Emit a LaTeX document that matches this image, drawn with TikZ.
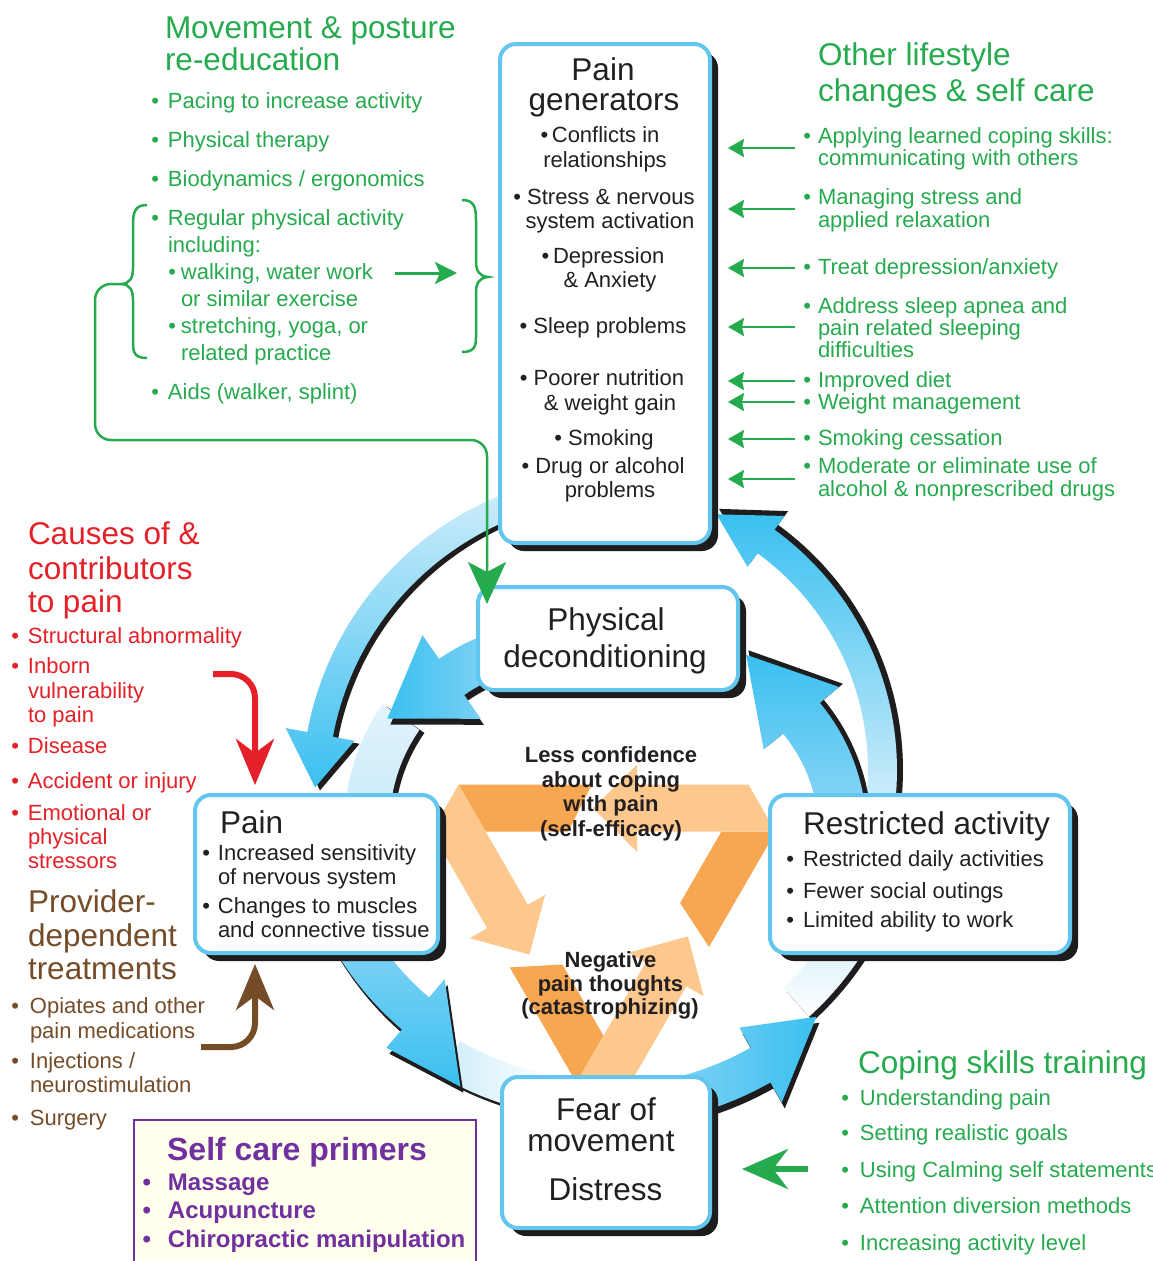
\documentclass[tikz,border=0pt]{standalone}
\usepackage{fontspec}
\setmainfont{Liberation Sans}
\usetikzlibrary{arrows.meta,shadows,calc}
\definecolor{gcolor}{RGB}{38,170,78}
\definecolor{rcolor}{RGB}{228,32,40}
\definecolor{bcolor}{RGB}{117,76,40}
\definecolor{pcolor}{RGB}{112,48,160}
\definecolor{kcolor}{RGB}{35,31,32}
\definecolor{bord}{RGB}{98,198,238}
\definecolor{bsat}{RGB}{58,192,240}
\definecolor{bmid}{RGB}{135,212,245}
\definecolor{bpale}{RGB}{205,236,250}
\definecolor{odark}{RGB}{247,166,82}
\definecolor{olight}{RGB}{252,200,142}
\definecolor{shad}{RGB}{30,28,28}
\definecolor{pfill}{RGB}{255,255,236}
\newcommand\bl[1]{\llap{•\hspace{#1}}}
\newcommand\BAgeom[9]{\def\Acx{#1}\def\Acy{#2}\def\Ara{#3}\def\Arb{#4}\def\Aas{#5}\def\Aab{#6}\def\Aat{#7}\def\Ae{#8}\def\Art{#9}}
\newcommand\BApath{plot[domain=\Aas:\Aab,samples=40] ({\Acx+\Arb*cos(\x)},{\Acy+\Arb*sin(\x)}) -- ({\Acx+(\Arb+\Ae)*cos(\Aab)},{\Acy+(\Arb+\Ae)*sin(\Aab)}) -- ({\Acx+\Art*cos(\Aat)},{\Acy+\Art*sin(\Aat)}) -- ({\Acx+(\Ara-\Ae)*cos(\Aab)},{\Acy+(\Ara-\Ae)*sin(\Aab)}) -- plot[domain=\Aab:\Aas,samples=40] ({\Acx+\Ara*cos(\x)},{\Acy+\Ara*sin(\x)}) -- cycle}
\newcommand\FAgeom[6]{\def\Fcx{#1}\def\Fcy{#2}\def\Fra{#3}\def\Frb{#4}\def\Fas{#5}\def\Fae{#6}}
\newcommand\FApath{plot[domain=\Fas:\Fae,samples=30] ({\Fcx+\Frb*cos(\x)},{\Fcy+\Frb*sin(\x)}) -- plot[domain=\Fae:\Fas,samples=30] ({\Fcx+\Fra*cos(\x)},{\Fcy+\Fra*sin(\x)}) -- cycle}
\begin{document}
\begin{tikzpicture}[x=1pt,y=-1pt,
  T/.style={anchor=base west,inner sep=0pt,outer sep=0pt},
  C/.style={anchor=base,inner sep=0pt,outer sep=0pt},
  H/.style={font=\fontsize{31.5}{33}\selectfont},
  S/.style={font=\fontsize{22}{24}\selectfont},
  SB/.style={font=\fontsize{22}{24}\selectfont\bfseries},
  gtx/.style={text=gcolor}, rtx/.style={text=rcolor}, btx/.style={text=bcolor},
  ptx/.style={text=pcolor}, ktx/.style={text=kcolor},
  box/.style={draw=bord,line width=4pt,fill=white,rounded corners=16pt,inner sep=0pt,
    drop shadow={shadow xshift=8pt,shadow yshift=-8pt,opacity=1,fill=shad}},
  gar/.style={draw=gcolor,line width=2.5pt,-{Stealth[length=16pt,width=18pt,inset=2pt]}},
]
\useasboundingbox (0,0) rectangle (1153,1261);
\fill[white] (0,0) rectangle (1153,1261);

% ---------- faded ring parts ----------
\FAgeom{554.6}{824.6}{165}{210}{186}{215}
\fill[shad,shift={(5,3)}] \FApath;
\shade[top color=bpale!60!white,bottom color=bpale] \FApath;
\FAgeom{605}{790}{290}{330}{100}{120}
\fill[shad,shift={(1,3)}] \FApath;
\shade[left color=bpale,right color=white] \FApath;
\FAgeom{605}{790}{272}{311}{28}{48}
\fill[shad] \FApath;
\FAgeom{605}{790}{266}{305}{28}{48}
\shade[top color=bpale,bottom color=white] \FApath;

% ---------- blue arrows ----------
% A1 pain generators -> pain
\BAgeom{620}{790}{292}{318}{250}{190.5}{180.5}{22}{305}
\fill[shad,shift={(5,3)}] \BApath;
\shade[top color=bpale,bottom color=bsat] \BApath;
% A2 restricted -> pain generators
\BAgeom{600}{770}{274}{303}{366}{306}{294.5}{17}{287}
\fill[shad] \BApath;
\BAgeom{600}{770}{268}{297}{366}{306}{294.5}{17}{281}
\shade[bottom color=bpale,top color=bsat] \BApath;
% A3 deconditioning -> pain
\BAgeom{554.6}{824.6}{158}{202}{250}{235.1}{212.4}{29}{198}
\fill[shad,shift={(3,6)}] \BApath;
\shade[left color=bsat,right color=bmid] \BApath;
% A4 restricted -> deconditioning
\BAgeom{663.7}{832.6}{160}{208}{350}{320.3}{294.9}{25}{201}
\fill[shad] \BApath;
\BAgeom{663.7}{832.6}{155}{203}{350}{320.3}{294.9}{25}{196}
\shade[bottom color=bmid,top color=bsat] \BApath;
% A5 pain -> fear
\BAgeom{605}{790}{272}{314}{150}{130.3}{116}{24}{330}
\fill[shad,shift={(3,6)}] \BApath;
\shade[top color=bmid,bottom color=bsat] \BApath;
% A6 fear -> restricted
\BAgeom{605}{790}{296}{336}{80}{60.5}{47}{23}{310}
\fill[shad,shift={(3,6)}] \BApath;
\shade[left color=bmid,right color=bsat] \BApath;

% ---------- orange triangle ----------
\begin{scope}[shift={(603.5,899.7)}]
\foreach \a in {0,120,240}{
  \fill[odark,rotate=\a] (117.8,-68) -- (172.1,-68) -- (105.5,47.3) -- (76.65,3.27) -- cycle;}
\foreach \a in {0,120,240}{
  \fill[olight,rotate=\a] (145,-115) -- (172.1,-68) -- (33.5,-68) -- (33.5,-48) -- (-10.5,-91.5) -- (33.5,-135) -- (33.5,-115) -- cycle;}
\end{scope}
\node[C,SB,ktx] (lc1) at (611,762) {Less confidence};
\node[C,SB,ktx] (lc2) at (611,787) {about coping};
\node[C,SB,ktx] (lc3) at (611,811) {with pain};
\node[C,SB,ktx] (lc4) at (611,836) {(self-efficacy)};
\node[C,SB,ktx] (nt1) at (610.5,967) {Negative};
\node[C,SB,ktx] (nt2) at (610.5,991) {pain thoughts};
\node[C,SB,ktx] (nt3) at (610,1014) {(catastrophizing)};

% ---------- boxes ----------
\node[box,minimum width=210pt,minimum height=499pt] (pg) at (605,293.5) {};
\node[box,minimum width=260pt,minimum height=103pt] (pd) at (608,638.5) {};
\node[box,minimum width=243pt,minimum height=158pt] (pain) at (316.5,874) {};
\node[box,minimum width=300pt,minimum height=158pt] (ra) at (920,874) {};
\node[box,minimum width=208pt,minimum height=151pt] (fear) at (606,1152.5) {};

\node[C,H,ktx] (pgA) at (603,80) {Pain};
\node[C,H,ktx] (pgB) at (604,110) {generators};
\node[C,S,ktx] (pg1) at (600,142) {•\,Conflicts in};
\node[C,S,ktx] (pg1b) at (605,167) {relationships};
\node[C,S,ktx] (pg2) at (604,204) {• Stress \& nervous};
\node[C,S,ktx] (pg2b) at (610,228) {system activation};
\node[C,S,ktx] (pg3) at (603,263) {•\,Depression};
\node[C,S,ktx] (pg3b) at (610,287) {\& Anxiety};
\node[C,S,ktx] (pg4) at (603,333) {• Sleep problems};
\node[C,S,ktx] (pg5) at (602,385) {• Poorer nutrition};
\node[C,S,ktx] (pg5b) at (610,410) {\& weight gain};
\node[C,S,ktx] (pg6) at (604,445) {• Smoking};
\node[C,S,ktx] (pg7) at (603,473) {• Drug or alcohol};
\node[C,S,ktx] (pg7b) at (610,497) {problems};

\node[C,H,ktx] (pdA) at (606,630) {Physical};
\node[C,H,ktx] (pdB) at (605,667) {deconditioning};

\node[T,H,ktx] (paA) at (220,833) {Pain};
\node[T,S,ktx] (pa1) at (218,860) {\bl{8pt}Increased sensitivity};
\node[T,S,ktx] (pa1b) at (218,884) {of nervous system};
\node[T,S,ktx] (pa2) at (218,913) {\bl{8pt}Changes to muscles};
\node[T,S,ktx] (pa2b) at (218,937) {and connective tissue};

\node[T,H,ktx] (raA) at (803,834) {Restricted activity};
\node[T,S,ktx] (ra1) at (803,866) {\bl{9pt}Restricted daily activities};
\node[T,S,ktx] (ra2) at (803,898) {\bl{9pt}Fewer social outings};
\node[T,S,ktx] (ra3) at (803,927) {\bl{9pt}Limited ability to work};

\node[C,H,ktx] (fA) at (606,1120) {Fear of};
\node[C,H,ktx] (fB) at (601,1151) {movement};
\node[C,H,ktx] (fC) at (605.5,1200) {Distress};

% ---------- movement & posture ----------
\node[T,H,gtx] (mvA) at (165,38) {Movement \& posture};
\node[T,H,gtx] (mvB) at (165,70) {re-education};
\node[T,S,gtx] (mv1) at (168,108) {\bl{9pt}Pacing to increase activity};
\node[T,S,gtx] (mv2) at (168,147) {\bl{9pt}Physical therapy};
\node[T,S,gtx] (mv3) at (168,186) {\bl{9pt}Biodynamics / ergonomics};
\node[T,S,gtx] (mv4) at (168,225) {\bl{9pt}Regular physical activity};
\node[T,S,gtx] (mv4b) at (168,252) {including:};
\node[T,S,gtx] (mv5) at (181,279) {\bl{5pt}walking, water work};
\node[T,S,gtx] (mv5b) at (181,306) {or similar exercise};
\node[T,S,gtx] (mv6) at (181,333) {\bl{5pt}stretching, yoga, or};
\node[T,S,gtx] (mv6b) at (181,360) {related practice};
\node[T,S,gtx] (mv7) at (168,399) {\bl{9pt}Aids (walker, splint)};
\draw[gcolor,line width=2.5pt] (147,205) .. controls (135,205) and (133,212) .. (133,225) -- (133,268) .. controls (133,278) and (130,283) .. (122,284) .. controls (130,285) and (133,290) .. (133,300) -- (133,343) .. controls (133,353) and (135,358) .. (147,358);
\draw[gcolor,line width=2.5pt] (462,200) .. controls (474,200) and (476,207) .. (476,220) -- (476,261) .. controls (476,271) and (479,276) .. (488,277) .. controls (479,278) and (476,283) .. (476,293) -- (476,337) .. controls (476,347) and (474,352) .. (462,352);
\coordinate (lbt) at (122,284);
\coordinate (rbl) at (457,273);
\draw[gcolor,line width=3pt,-{Stealth[length=22pt,width=22pt,inset=5pt]}] ([xshift=22pt]mv5.east |- rbl) -- (rbl);
\coordinate (pdin) at (487,604);
\draw[gcolor,line width=2.5pt,rounded corners=16pt,-{Stealth[length=42pt,width=38pt,inset=10pt]}] (lbt) -- (95,284) -- (95,440) -- (487,440) -- (pdin);

% ---------- other lifestyle ----------
\node[T,H,gtx] (olA) at (818,65) {Other lifestyle};
\node[T,H,gtx] (olB) at (818,101) {changes \& self care};
\node[T,S,gtx] (ol1) at (818,143) {\bl{7pt}Applying learned coping skills:};
\node[T,S,gtx] (ol1b) at (818,165) {communicating with others};
\node[T,S,gtx] (ol2) at (818,204) {\bl{7pt}Managing stress and};
\node[T,S,gtx] (ol2b) at (818,227) {applied relaxation};
\node[T,S,gtx] (ol3) at (818,274) {\bl{7pt}Treat depression/anxiety};
\node[T,S,gtx] (ol4) at (818,313) {\bl{7pt}Address sleep apnea and};
\node[T,S,gtx] (ol4b) at (818,335) {pain related sleeping};
\node[T,S,gtx] (ol4c) at (818,357) {difficulties};
\node[T,S,gtx] (ol5) at (818,387) {\bl{7pt}Improved diet};
\node[T,S,gtx] (ol6) at (818,409) {\bl{7pt}Weight management};
\node[T,S,gtx] (ol7) at (818,445) {\bl{7pt}Smoking cessation};
\node[T,S,gtx] (ol8) at (818,473) {\bl{7pt}Moderate or eliminate use of};
\node[T,S,gtx] (ol8b) at (818,496) {alcohol \& nonprescribed drugs};
\foreach \n/\yy in {1/148,2/209,3/268,4/327,5/381,6/402,7/439,8/479}{
  \coordinate (gt\n) at (728,\yy);
  \draw[gar] ([xshift=-23pt]ol\n.west |- gt\n) -- (gt\n);}

% ---------- causes ----------
\node[T,H,rtx] (cA) at (28,544) {Causes of \&};
\node[T,H,rtx] (cB) at (28,579) {contributors};
\node[T,H,rtx] (cC) at (28,612) {to pain};
\node[T,S,rtx] (c1) at (28,643) {\bl{9pt}Structural abnormality};
\node[T,S,rtx] (c2) at (28,673) {\bl{9pt}Inborn};
\node[T,S,rtx] (c2b) at (28,698) {vulnerability};
\node[T,S,rtx] (c2c) at (28,722) {to pain};
\node[T,S,rtx] (c3) at (28,753) {\bl{9pt}Disease};
\node[T,S,rtx] (c4) at (28,788) {\bl{9pt}Accident or injury};
\node[T,S,rtx] (c5) at (28,820) {\bl{9pt}Emotional or};
\node[T,S,rtx] (c5b) at (28,844) {physical};
\node[T,S,rtx] (c5c) at (28,868) {stressors};
\coordinate (rin) at (255,785);
\draw[rcolor,line width=6pt,rounded corners=24pt,-{Stealth[length=46pt,width=38pt,inset=14pt]}] (213,674) -- (255,674) -- (rin);

% ---------- provider-dependent ----------
\node[T,H,btx] (pA) at (28,912) {Provider-};
\node[T,H,btx] (pB) at (28,946) {dependent};
\node[T,H,btx] (pC) at (28,979) {treatments};
\node[T,S,btx] (p1) at (30,1013) {\bl{11pt}Opiates and other};
\node[T,S,btx] (p1b) at (30,1038) {pain medications};
\node[T,S,btx] (p2) at (30,1068) {\bl{11pt}Injections /};
\node[T,S,btx] (p2b) at (30,1092) {neurostimulation};
\node[T,S,btx] (p3) at (30,1125) {\bl{11pt}Surgery};
\coordinate (bin) at (255,964);
\draw[bcolor,line width=6pt,rounded corners=24pt,-{Stealth[length=46pt,width=38pt,inset=14pt]}] ([xshift=6pt]p1b.east |- 0,1047) -- (255,1047) -- (bin);

% ---------- coping ----------
\node[T,H,gtx] (ctA) at (858,1073) {Coping skills training};
\node[T,S,gtx] (ct1) at (860,1105) {\bl{11pt}Understanding pain};
\node[T,S,gtx] (ct2) at (860,1140) {\bl{11pt}Setting realistic goals};
\node[T,S,gtx] (ct3) at (860,1177) {\bl{11pt}Using Calming self statements};
\node[T,S,gtx] (ct4) at (860,1213) {\bl{11pt}Attention diversion methods};
\node[T,S,gtx] (ct5) at (860,1250) {\bl{11pt}Increasing activity level};
\coordinate (fin) at (742,1169);
\draw[gcolor,line width=6pt,-{Stealth[length=46pt,width=40pt,inset=15pt]}] (808,1169) -- (fin);

% ---------- self care primers ----------
\node[draw=pcolor,line width=1.5pt,fill=pfill,minimum width=342pt,minimum height=160pt,inner sep=0pt,anchor=north west] (scp) at (133,1119) {};
\node[C,ptx,font=\fontsize{32}{34}\selectfont\bfseries] (scA) at (297,1160) {Self care primers};
\node[T,ptx,font=\fontsize{24}{26}\selectfont\bfseries] (sc1) at (168,1190) {\bl{17pt}Massage};
\node[T,ptx,font=\fontsize{24}{26}\selectfont\bfseries] (sc2) at (168,1218) {\bl{17pt}Acupuncture};
\node[T,ptx,font=\fontsize{24}{26}\selectfont\bfseries] (sc3) at (168,1247) {\bl{17pt}Chiropractic manipulation};
\end{tikzpicture}
\end{document}
